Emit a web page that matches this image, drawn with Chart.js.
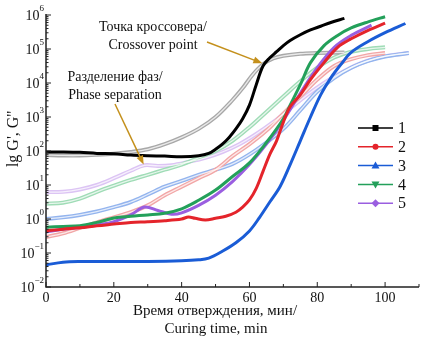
<!DOCTYPE html>
<html>
<head>
<meta charset="utf-8">
<script src="https://cdn.jsdelivr.net/npm/chart.js@4.4.0/dist/chart.umd.min.js"></script>
<style>
html, body { margin: 0; padding: 0; background: #fff; }
</style>
</head>
<body>
<canvas id="chart" width="443" height="339"></canvas>
<script>
// values are lg G (the y axis is "lg G', G''"), times in minutes
const sampleNames = ["1", "2", "3", "4", "5"];

// sample 1
const t1p = [0, 5, 10, 15, 20, 25, 30, 35, 40, 45, 48, 50, 52, 54, 56, 58, 60, 62, 64, 66, 68, 70, 72, 75, 78, 81, 84, 88];
const lg1p = [1.97, 1.97, 1.96, 1.93, 1.92, 1.88, 1.86, 1.85, 1.83, 1.86, 1.93, 2.05, 2.2, 2.4, 2.65, 2.95, 3.35, 3.95, 4.5, 4.74, 4.92, 5.1, 5.25, 5.42, 5.56, 5.67, 5.78, 5.9];
const t1pp = [0, 5, 10, 15, 20, 25, 30, 35, 40, 45, 50, 55, 58, 61, 64, 67, 70, 75, 80, 88];
const lg1pp = [1.88, 1.87, 1.87, 1.89, 1.92, 1.97, 2.05, 2.2, 2.4, 2.65, 3.0, 3.5, 3.85, 4.25, 4.55, 4.72, 4.8, 4.86, 4.88, 4.9];

// sample 2
const t2p = [0, 5, 10, 15, 20, 25, 30, 35, 40, 42, 44, 47, 50, 53, 56, 58, 60, 62, 64, 66, 68, 70, 72, 75, 78, 82, 86, 90, 95, 100];
const lg2p = [-0.35, -0.3, -0.26, -0.2, -0.15, -0.1, -0.08, -0.05, 0.0, 0.06, 0.02, -0.03, 0.02, 0.08, 0.2, 0.35, 0.56, 0.9, 1.4, 1.9, 2.3, 2.85, 3.3, 3.65, 4.1, 4.6, 5.05, 5.3, 5.55, 5.76];
const t2pp = [0, 5, 10, 15, 20, 25, 30, 35, 40, 45, 50, 55, 60, 65, 70, 75, 80, 85, 90, 95, 100];
const lg2pp = [-0.53, -0.42, -0.26, -0.1, 0.05, 0.2, 0.4, 0.7, 0.95, 1.2, 1.45, 1.85, 2.2, 2.6, 3.1, 3.6, 4.1, 4.5, 4.7, 4.82, 4.88];

// sample 3
const t3p = [0, 5, 10, 20, 30, 40, 45, 48, 52, 56, 60, 63, 66, 69, 72, 75, 78, 81, 84, 87, 90, 95, 100, 106];
const lg3p = [-1.35, -1.27, -1.25, -1.25, -1.25, -1.23, -1.2, -1.15, -0.95, -0.7, -0.35, 0.05, 0.5, 0.95, 1.6, 2.3, 3.0, 3.65, 4.15, 4.55, 4.9, 5.22, 5.48, 5.75];
const t3pp = [0, 5, 10, 15, 20, 25, 30, 35, 40, 45, 50, 55, 60, 65, 70, 75, 80, 85, 90, 95, 100, 107];
const lg3pp = [0.0, 0.05, 0.12, 0.22, 0.35, 0.5, 0.72, 0.95, 1.12, 1.3, 1.45, 1.62, 1.9, 2.25, 2.65, 3.2, 3.75, 4.15, 4.45, 4.65, 4.78, 4.88];

// sample 4
const t4p = [0, 5, 10, 15, 20, 25, 30, 35, 40, 45, 50, 55, 60, 65, 70, 72, 75, 78, 82, 86, 90, 95, 100];
const lg4p = [-0.24, -0.22, -0.2, -0.1, 0.03, 0.08, 0.12, 0.17, 0.3, 0.55, 0.85, 1.25, 1.65, 2.25, 2.95, 3.35, 3.95, 4.6, 5.1, 5.4, 5.62, 5.8, 5.95];
const t4pp = [0, 5, 10, 15, 20, 25, 30, 35, 40, 45, 50, 55, 60, 65, 70, 75, 80, 85, 90, 95, 100];
const lg4pp = [0.45, 0.48, 0.6, 0.8, 0.98, 1.15, 1.3, 1.45, 1.6, 1.8, 2.0, 2.3, 2.7, 3.15, 3.6, 4.05, 4.45, 4.75, 4.92, 5.0, 5.05];

// sample 5
const t5p = [0, 5, 10, 15, 20, 25, 29, 33, 37, 40, 45, 50, 55, 60, 65, 70, 75, 80, 85, 90, 96];
const lg5p = [-0.38, -0.3, -0.25, -0.18, -0.08, 0.12, 0.35, 0.25, 0.14, 0.18, 0.4, 0.7, 1.1, 1.6, 2.2, 2.9, 3.7, 4.45, 5.05, 5.4, 5.7];
const t5pp = [0, 5, 10, 15, 20, 25, 29, 33, 37, 42, 47, 52, 57, 62, 67, 72, 77, 82, 87, 92, 97, 102, 107];
const lg5pp = [0.79, 0.8, 0.87, 1.0, 1.2, 1.42, 1.58, 1.56, 1.58, 1.68, 1.8, 1.97, 2.2, 2.5, 2.85, 3.25, 3.65, 4.0, 4.3, 4.55, 4.72, 4.82, 4.88];

const xTicks = [0, 20, 40, 60, 80, 100];
const yExps = [-2, -1, 0, 1, 2, 3, 4, 5, 6];

const colorsP = ["#000000", "#e4242b", "#1a5cd6", "#23a05a", "#9a5ee0"];
const colorsPP = ["#a8a8a8", "#f2a6a6", "#93b4ee", "#9fdcb6", "#dcc4f4"];
const markers = ["square", "circle", "triangle", "down", "diamond"];

function pts(t, lg) {
  return t.map((x, i) => ({ x: x, y: Math.pow(10, lg[i]) }));
}

const gp = [pts(t1p, lg1p), pts(t2p, lg2p), pts(t3p, lg3p), pts(t4p, lg4p), pts(t5p, lg5p)];
const gpp = [pts(t1pp, lg1pp), pts(t2pp, lg2pp), pts(t3pp, lg3pp), pts(t4pp, lg4pp), pts(t5pp, lg5pp)];

let datasets = [];
for (let i = 0; i < 5; i++) {
  datasets.push({ label: "G' " + sampleNames[i], data: gp[i], borderColor: colorsP[i], borderWidth: 3, pointRadius: 0, tension: 0.35, order: 0 });
  datasets.push({ label: "G'' in " + sampleNames[i], data: gpp[i], borderColor: "rgba(255,255,255,0.75)", borderWidth: 1.3, pointRadius: 0, tension: 0.35, order: 1 });
  datasets.push({ label: "G'' " + sampleNames[i], data: gpp[i], borderColor: colorsPP[i], borderWidth: 4, pointRadius: 0, tension: 0.35, order: 2 });
}

const serif = "'Liberation Serif', 'DejaVu Serif', serif";

function drawMarker(ctx, kind, x, y, r, color) {
  ctx.fillStyle = color;
  ctx.beginPath();
  if (kind == "square") {
    ctx.rect(x - r, y - r, 2 * r, 2 * r);
  } else if (kind == "circle") {
    ctx.arc(x, y, r, 0, Math.PI * 2);
  } else if (kind == "triangle") {
    ctx.moveTo(x, y - r - 1); ctx.lineTo(x + r + 1, y + r); ctx.lineTo(x - r - 1, y + r);
  } else if (kind == "down") {
    ctx.moveTo(x, y + r + 1); ctx.lineTo(x + r + 1, y - r); ctx.lineTo(x - r - 1, y - r);
  } else {
    ctx.moveTo(x, y - r - 1); ctx.lineTo(x + r + 1, y); ctx.lineTo(x, y + r + 1); ctx.lineTo(x - r - 1, y);
  }
  ctx.closePath();
  ctx.fill();
}

function arrow(ctx, x1, y1, x2, y2) {
  ctx.strokeStyle = "#c4901c";
  ctx.fillStyle = "#c4901c";
  ctx.lineWidth = 1.5;
  let a = Math.atan2(y2 - y1, x2 - x1);
  ctx.beginPath();
  ctx.moveTo(x1, y1);
  ctx.lineTo(x2 - 6 * Math.cos(a), y2 - 6 * Math.sin(a));
  ctx.stroke();
  ctx.beginPath();
  ctx.moveTo(x2, y2);
  ctx.lineTo(x2 - 9 * Math.cos(a) + 3.5 * Math.sin(a), y2 - 9 * Math.sin(a) - 3.5 * Math.cos(a));
  ctx.lineTo(x2 - 9 * Math.cos(a) - 3.5 * Math.sin(a), y2 - 9 * Math.sin(a) + 3.5 * Math.cos(a));
  ctx.closePath();
  ctx.fill();
}

const decor = {
  id: "decor",
  afterDatasetsDraw(chart) {
    const ctx = chart.ctx;
    const xs = chart.scales.x, ys = chart.scales.y;
    const a = chart.chartArea;
    ctx.save();
    // axes
    ctx.strokeStyle = "#222";
    ctx.lineWidth = 1.5;
    ctx.beginPath();
    ctx.moveTo(a.left, a.top - 1);
    ctx.lineTo(a.left, a.bottom);
    ctx.lineTo(a.right, a.bottom);
    ctx.stroke();
    ctx.lineWidth = 1;
    ctx.beginPath();
    for (let v = 0; v <= 110; v += 10) {
      let px = xs.getPixelForValue(v);
      let len = v % 20 == 0 ? 5 : 3;
      ctx.moveTo(px, a.bottom);
      ctx.lineTo(px, a.bottom - len);
    }
    yExps.forEach(e => {
      let py = ys.getPixelForValue(Math.pow(10, e));
      ctx.moveTo(a.left, py);
      ctx.lineTo(a.left + 5, py);
      if (e < 6) {
        for (let m = 2; m < 10; m++) {
          let pm = ys.getPixelForValue(m * Math.pow(10, e));
          ctx.moveTo(a.left, pm);
          ctx.lineTo(a.left + 2.5, pm);
        }
      }
    });
    ctx.stroke();

    // tick labels
    ctx.fillStyle = "#111";
    ctx.font = "14px " + serif;
    ctx.textAlign = "center";
    ctx.textBaseline = "middle";
    xTicks.forEach(v => ctx.fillText(String(v), xs.getPixelForValue(v), 298));
    yExps.forEach(e => {
      let py = ys.getPixelForValue(Math.pow(10, e));
      let sup = String(e).replace("-", "\u2212");
      ctx.font = "9px " + serif;
      let sw = ctx.measureText(sup).width;
      ctx.textAlign = "left";
      ctx.fillText(sup, 44 - sw, py - 6);
      ctx.font = "14px " + serif;
      ctx.textAlign = "right";
      ctx.fillText("10", 44 - sw, py + 1);
    });

    // axis titles
    ctx.textAlign = "center";
    ctx.font = "15px " + serif;
    ctx.fillText("Время отверждения, мин/", 215, 311);
    ctx.fillText("Curing time, min", 216, 329);
    ctx.save();
    ctx.translate(14, 139);
    ctx.rotate(-Math.PI / 2);
    ctx.font = "16px " + serif;
    ctx.fillText("lg G', G''", 0, 0);
    ctx.restore();

    // annotations
    ctx.font = "14px " + serif;
    ctx.fillText("Точка кроссовера/", 153, 27);
    ctx.fillText("Crossover point", 153, 45);
    ctx.fillText("Разделение фаз/", 115, 77);
    ctx.fillText("Phase separation", 115, 95);
    arrow(ctx, 207, 42, xs.getPixelForValue(63.8), ys.getPixelForValue(Math.pow(10, 4.58)));
    arrow(ctx, 115, 104, xs.getPixelForValue(28.8), ys.getPixelForValue(Math.pow(10, 1.6)));

    // legend
    for (let i = 0; i < 5; i++) {
      let ly = 128 + i * 18.8;
      ctx.strokeStyle = colorsP[i];
      ctx.lineWidth = 1.5;
      ctx.beginPath();
      ctx.moveTo(358, ly);
      ctx.lineTo(393, ly);
      ctx.stroke();
      drawMarker(ctx, markers[i], 375.5, ly, 3, colorsP[i]);
      ctx.fillStyle = "#111";
      ctx.font = "16px " + serif;
      ctx.textAlign = "left";
      ctx.fillText(sampleNames[i], 398, ly + 1);
    }
    ctx.restore();
  }
};

new Chart(document.getElementById("chart").getContext("2d"), {
  type: "line",
  data: { datasets: datasets },
  options: {
    responsive: false,
    animation: false,
    layout: { padding: { left: 46, right: 24, top: 15, bottom: 52 } },
    plugins: { legend: { display: false }, tooltip: { enabled: false } },
    scales: {
      x: { type: "linear", min: 0, max: 110, display: false },
      y: { type: "logarithmic", min: 0.01, max: 1e6, display: false }
    }
  },
  plugins: [decor]
});
</script>
</body>
</html>
